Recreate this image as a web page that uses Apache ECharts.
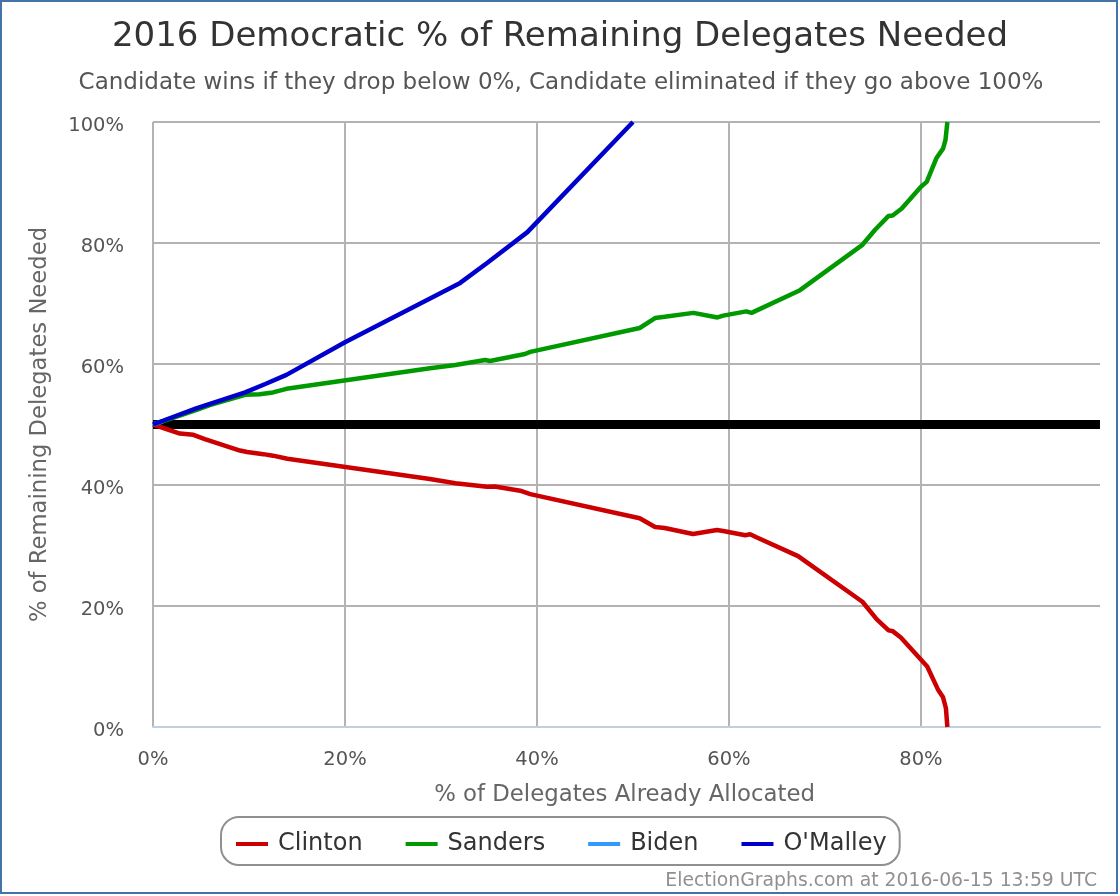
<!DOCTYPE html>
<html><head><meta charset="utf-8">
<script src="https://cdn.jsdelivr.net/npm/echarts@6/dist/echarts.min.js"></script>
<style>html,body{margin:0;padding:0;background:#fff}
#frame{position:absolute;left:0;top:0;width:1118px;height:894px;box-sizing:border-box;border:2px solid #4572A7}
#c{position:absolute;left:0;top:0;width:1120px;height:896px}</style></head>
<body><div id="c"></div><div id="frame"></div>
<script>
const titleText = '2016 Democratic % of Remaining Delegates Needed';
const subtitleText = 'Candidate wins if they drop below 0%, Candidate eliminated if they go above 100%';
const xName = '% of Delegates Already Allocated';
const yName = '% of Remaining Delegates Needed';
const creditText = 'ElectionGraphs.com at 2016-06-15 13:59 UTC';
const clinton = [[0,50],[2.8,48.5],[4.2,48.3],[5.4,47.6],[9.06,45.7],[9.8,45.45],[11.5,45.1],[12.5,44.85],[14,44.35],[28.85,41],[31.5,40.3],[34.8,39.7],[35.6,39.75],[38.4,39],[39.3,38.5],[50.7,34.5],[52.3,33.05],[53.3,32.9],[56.25,31.9],[58.75,32.55],[59.4,32.4],[61.7,31.7],[62.2,31.85],[62.8,31.4],[67.2,28.25],[73.9,20.7],[75.4,17.8],[76.6,16],[77.05,15.85],[77.9,14.8],[80.2,10.8],[80.65,10],[81.8,6.1],[82.3,4.9],[82.6,3.1],[82.75,0]];
const sanders = [[0,50],[4.55,52.4],[5.9,53.2],[9.6,54.9],[11.1,55],[12.5,55.3],[13.9,55.9],[28.85,59.3],[31.5,59.85],[34.6,60.65],[35.1,60.5],[38.75,61.65],[39.3,62],[50.7,65.95],[52.3,67.6],[53.3,67.8],[56.3,68.45],[58.8,67.7],[59.4,68],[61.8,68.7],[62.35,68.45],[67.4,72.2],[73.9,79.7],[75.2,82.15],[76.6,84.45],[77.05,84.55],[78,85.7],[80,89.3],[80.6,90.1],[81.6,94],[82.3,95.6],[82.55,97],[82.75,100]];
const biden = [[0,50],[1,50.5]];
const omalley = [[0,50],[4.5,52.65],[9.6,55.3],[11.7,56.7],[13.9,58.2],[20,63.6],[32,73.4],[34.8,76.7],[39,81.8],[50,100]];
const fiftyLine = [[0,50],[98.65,50]];
const font = 'DejaVu Sans';
const chart = echarts.init(document.getElementById('c'), null, {renderer:'canvas'});
chart.setOption({
  animation:false, backgroundColor:'#fff',
  textStyle:{fontFamily:font},
  title:[
    {text:titleText,left:555,top:15,textAlign:'center',textStyle:{fontFamily:font,fontSize:34,fontWeight:'normal',color:'#333'}},
    {text:subtitleText,left:556,top:67,textAlign:'center',textStyle:{fontFamily:font,fontSize:23,fontWeight:'normal',color:'#555'}},
    {text:creditText,right:18,top:867,textStyle:{fontFamily:font,fontSize:18.8,fontWeight:'normal',color:'#909090'}}
  ],
  grid:{left:153,top:122,width:947,height:605,containLabel:false},
  xAxis:{type:'value',min:0,max:98.65,interval:20,
    name:xName,nameLocation:'middle',nameGap:57,nameTextStyle:{fontFamily:font,fontSize:22.8,color:'#666',padding:[0,4,0,0]},
    axisLine:{show:true,lineStyle:{color:'#C0D0E0',width:2}},axisTick:{show:false},
    axisLabel:{fontFamily:font,fontSize:19.5,color:'#555',margin:23,showMaxLabel:false,formatter:'{value}%'},
    splitLine:{show:true,showMaxLine:false,lineStyle:{color:'#b3b3b3',width:2}}},
  yAxis:{type:'value',min:0,max:100,interval:20,
    name:yName,nameLocation:'middle',nameGap:101,nameTextStyle:{fontFamily:font,fontSize:22.7,color:'#666'},
    axisLine:{show:false},axisTick:{show:false},
    axisLabel:{fontFamily:font,fontSize:19.5,color:'#555',margin:29,verticalAlign:'top',lineHeight:8,formatter:'{value}%'},
    splitLine:{show:true,showMinLine:false,lineStyle:{color:'#b3b3b3',width:2}}},
  legend:{left:221,top:817,padding:[15,13,9,15],itemGap:43,itemWidth:32,itemHeight:4,icon:'rect',
    borderColor:'#909090',borderWidth:2,borderRadius:18,
    textStyle:{fontFamily:font,fontSize:24,color:'#333',padding:[0,0,0,5]},
    data:['Clinton','Sanders','Biden',"O'Malley"]},
  series:[
    {name:'50%',type:'line',data:fiftyLine,symbol:'none',z:1,lineStyle:{color:'#000',width:9},silent:true},
    {name:'Clinton',type:'line',data:clinton,symbol:'none',z:2,lineStyle:{color:'#CC0000',width:4.5},itemStyle:{color:'#CC0000'}},
    {name:'Sanders',type:'line',data:sanders,symbol:'none',z:3,lineStyle:{color:'#009900',width:4.5},itemStyle:{color:'#009900'}},
    {name:'Biden',type:'line',data:biden,symbol:'none',z:4,lineStyle:{color:'#3399FF',width:4.5},itemStyle:{color:'#3399FF'}},
    {name:"O'Malley",type:'line',data:omalley,symbol:'none',z:5,lineStyle:{color:'#0000CC',width:4.5},itemStyle:{color:'#0000CC'}}
  ]
});
</script></body></html>
